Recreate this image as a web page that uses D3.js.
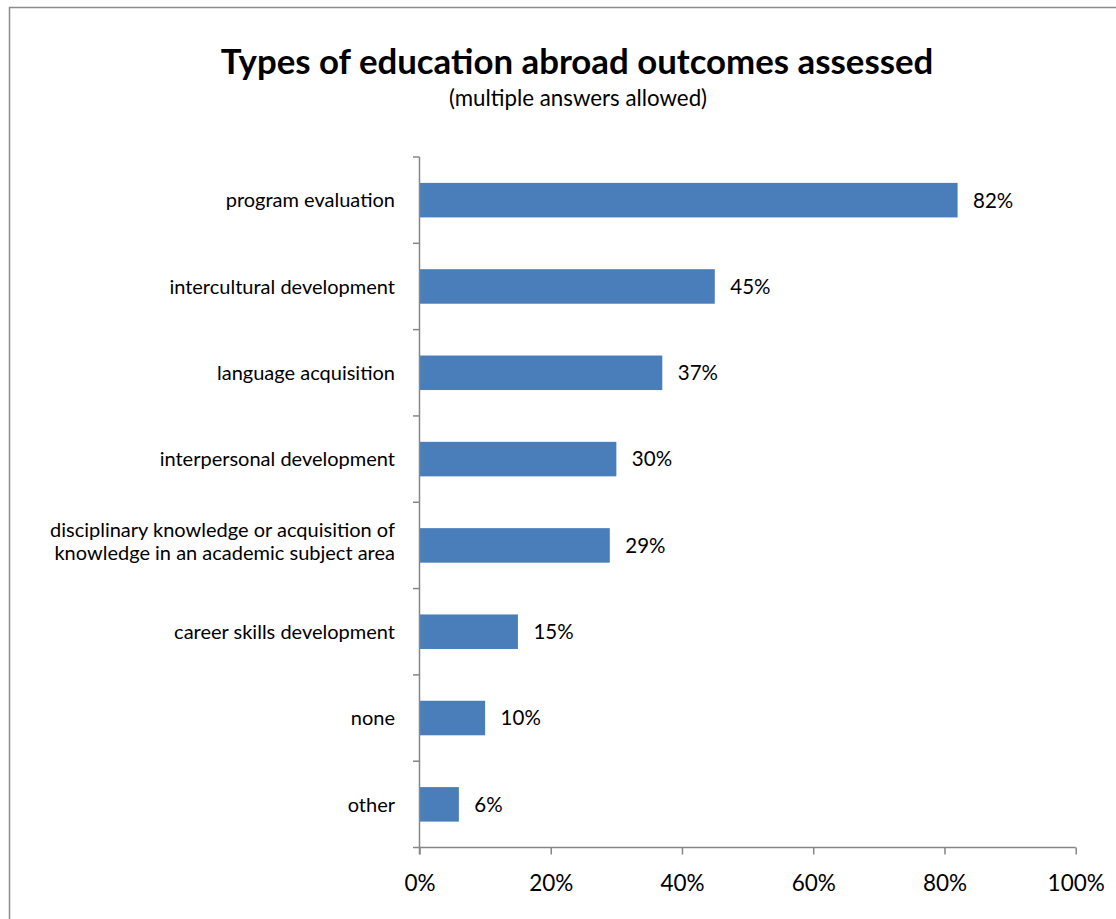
<!DOCTYPE html>
<html>
<head>
<meta charset="utf-8">
<script src="https://cdn.jsdelivr.net/npm/d3@7"></script>
<style>
  html, body { margin: 0; padding: 0; background: #fff; }
  svg { display: block; font-family: Lato, "Open Sans", sans-serif; }
</style>
</head>
<body>
<svg id="chart" width="1116" height="919"></svg>
<script>
// Survey answers, top to bottom
const categories = [
  "program evaluation",
  "intercultural development",
  "language acquisition",
  "interpersonal development",
  "disciplinary knowledge or acquisition of\nknowledge in an academic subject area",
  "career skills development",
  "none",
  "other"
];
const values = [82, 45, 37, 30, 29, 15, 10, 6];
const xTicks = [0, 20, 40, 60, 80, 100];

const titleText = "Types of education abroad outcomes assessed";
const subtitleText = "(multiple answers allowed)";

const svg = d3.select("#chart");
const W = 1116, H = 919;
const plot = { left: 419.5, right: 1075.7, top: 157, bottom: 847.5 };
const axisColor = "#868686";
const barColor = "#4A7EBB";

// outer frame
svg.append("rect")
  .attr("x", 9.5).attr("y", 7.5)
  .attr("width", W + 10).attr("height", H + 10)
  .attr("fill", "none").attr("stroke", "#8c8c8c").attr("stroke-width", 1.5);

// titles
svg.append("text")
  .attr("x", 577).attr("y", 73.5)
  .attr("text-anchor", "middle")
  .attr("font-size", 34.8).attr("font-weight", 700)
  .attr("fill", "#000")
  .text(titleText);
svg.append("text")
  .attr("x", 578).attr("y", 106)
  .attr("text-anchor", "middle")
  .attr("font-size", 22.3)
  .attr("fill", "#000")
  .text(subtitleText);

const x = d3.scaleLinear().domain([0, 100]).range([plot.left, plot.right]);
const y = d3.scaleBand().domain(categories).range([plot.top, plot.bottom]).paddingInner(0.6).paddingOuter(0.3);
const yEdges = d3.scaleLinear().domain([0, categories.length]).range([plot.top, plot.bottom]);

// bars
svg.append("g").selectAll("rect")
  .data(categories)
  .join("rect")
  .attr("x", x(0))
  .attr("y", d => y(d))
  .attr("width", (d, i) => x(values[i]) - x(0))
  .attr("height", y.bandwidth())
  .attr("fill", barColor);

// value labels
svg.append("g").selectAll("text")
  .data(categories)
  .join("text")
  .attr("x", (d, i) => x(values[i]) + 15.5)
  .attr("y", d => y(d) + y.bandwidth() / 2)
  .attr("dy", "0.36em")
  .attr("font-size", 20.5)
  .attr("fill", "#000")
  .text((d, i) => values[i] + "%");

// x axis
const xAxis = svg.append("g")
  .attr("transform", `translate(0,${plot.bottom})`)
  .call(d3.axisBottom(x).tickValues(xTicks).tickFormat(d => d + "%").tickSize(7).tickSizeOuter(0));
xAxis.select(".domain").remove();
xAxis.append("line")
  .attr("x1", plot.left - 6.5).attr("x2", plot.right)
  .attr("stroke", axisColor).attr("stroke-width", 1.5);
xAxis.selectAll(".tick line").attr("stroke", axisColor).attr("stroke-width", 1.5);
xAxis.selectAll(".tick text")
  .attr("y", 35).attr("dy", "0.36em")
  .attr("font-size", 22.5).attr("font-family", "Lato, sans-serif").attr("fill", "#000");

// y axis line and category boundary ticks
svg.append("line")
  .attr("x1", plot.left).attr("x2", plot.left)
  .attr("y1", plot.top).attr("y2", plot.bottom + 7)
  .attr("stroke", axisColor).attr("stroke-width", 1.5);
svg.append("g").selectAll("line")
  .data(d3.range(categories.length))
  .join("line")
  .attr("x1", plot.left - 6.5).attr("x2", plot.left)
  .attr("y1", d => yEdges(d)).attr("y2", d => yEdges(d))
  .attr("stroke", axisColor).attr("stroke-width", 1.5);

// category labels (multi-line where needed)
const catG = svg.append("g");
categories.forEach(c => {
  const lines = c.split("\n");
  const cy = y(c) + y.bandwidth() / 2;
  const lh = 23;
  const t = catG.append("text")
    .attr("text-anchor", "end")
    .attr("font-size", 20)
    .attr("fill", "#000");
  lines.forEach((ln, k) => {
    t.append("tspan")
      .attr("x", 395)
      .attr("y", cy + (k - (lines.length - 1) / 2) * lh - (lines.length > 1 ? 4 : 0))
      .attr("dy", "0.36em")
      .text(ln);
  });
});
</script>
</body>
</html>
